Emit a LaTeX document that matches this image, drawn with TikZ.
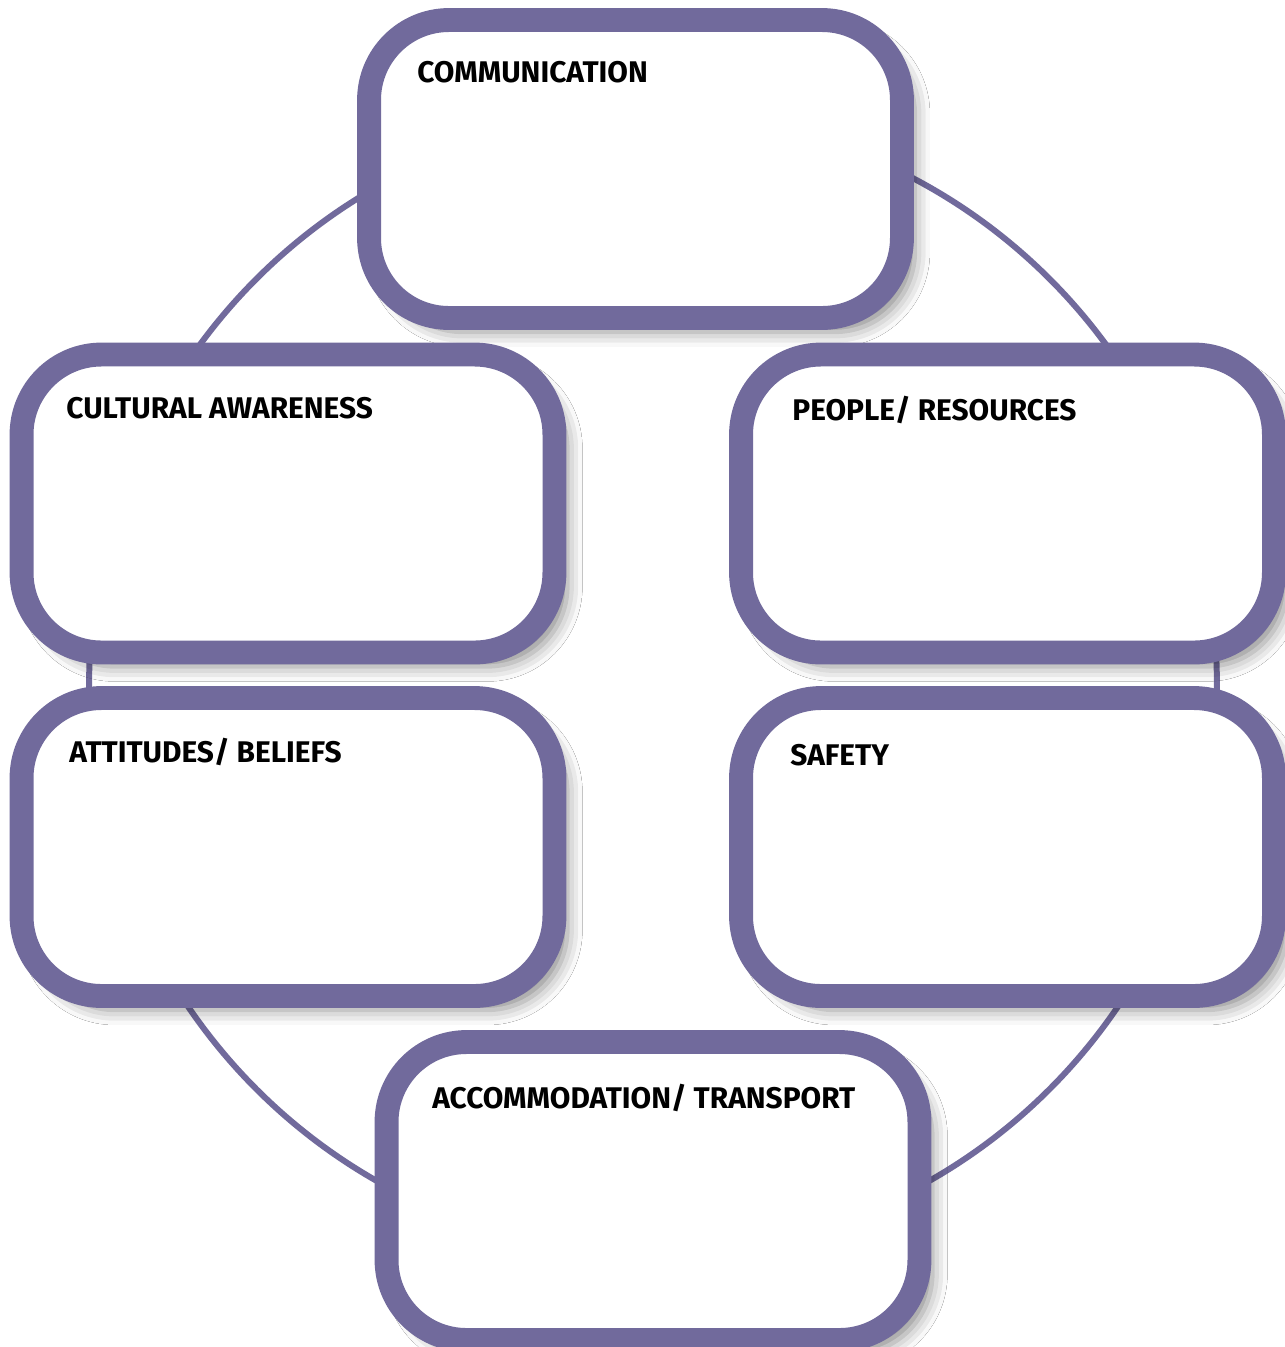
\documentclass[tikz,border=0pt]{standalone}
\usepackage{fontspec}
\setmainfont{Fira Sans}
\usetikzlibrary{shadows.blur}
\definecolor{ringpurple}{HTML}{716A9C}

\begin{document}
\begin{tikzpicture}[x=0.02cm,y=-0.02cm,
    topicbox/.style={draw=ringpurple,line width=13.6pt,fill=white,rounded corners=1.6cm,
        minimum width=10.66cm,minimum height=5.96cm,inner sep=0pt,
        blur shadow={shadow xshift=0.26cm,shadow yshift=-0.28cm,shadow blur radius=0.3cm,shadow opacity=45}},
    topictitle/.style={anchor=base west,inner sep=0pt,font=\bfseries\fontsize{17}{17}\selectfont}]
        \useasboundingbox (0,0) rectangle (1285,1347);
        \fill[white] (0,0) rectangle (1285,1347);
        \draw[ringpurple,line width=3.4pt] (653,684) ellipse [x radius=11.28cm,y radius=11.4cm];
        \node[topicbox] (comm) at (635.5,169) {};
        \node[topicbox] (culture) at (288,503.5) {};
        \node[topicbox] (people) at (1007.5,503.5) {};
        \node[topicbox] (beliefs) at (288,847) {};
        \node[topicbox] (safety) at (1007.5,847) {};
        \node[topicbox] (transport) at (653,1191) {};
        \node[topictitle] (commtext) at (417,82) {COMMUNICATION};
        \node[topictitle] (culturetext) at (66,418) {CULTURAL AWARENESS};
        \node[topictitle] (peopletext) at (792,420) {PEOPLE/ RESOURCES};
        \node[topictitle] (beliefstext) at (69,762) {ATTITUDES/ BELIEFS};
        \node[topictitle] (safetytext) at (790,765) {SAFETY};
        \node[topictitle] (transporttext) at (432,1108) {ACCOMMODATION/ TRANSPORT};
    \end{tikzpicture}
\end{document}
